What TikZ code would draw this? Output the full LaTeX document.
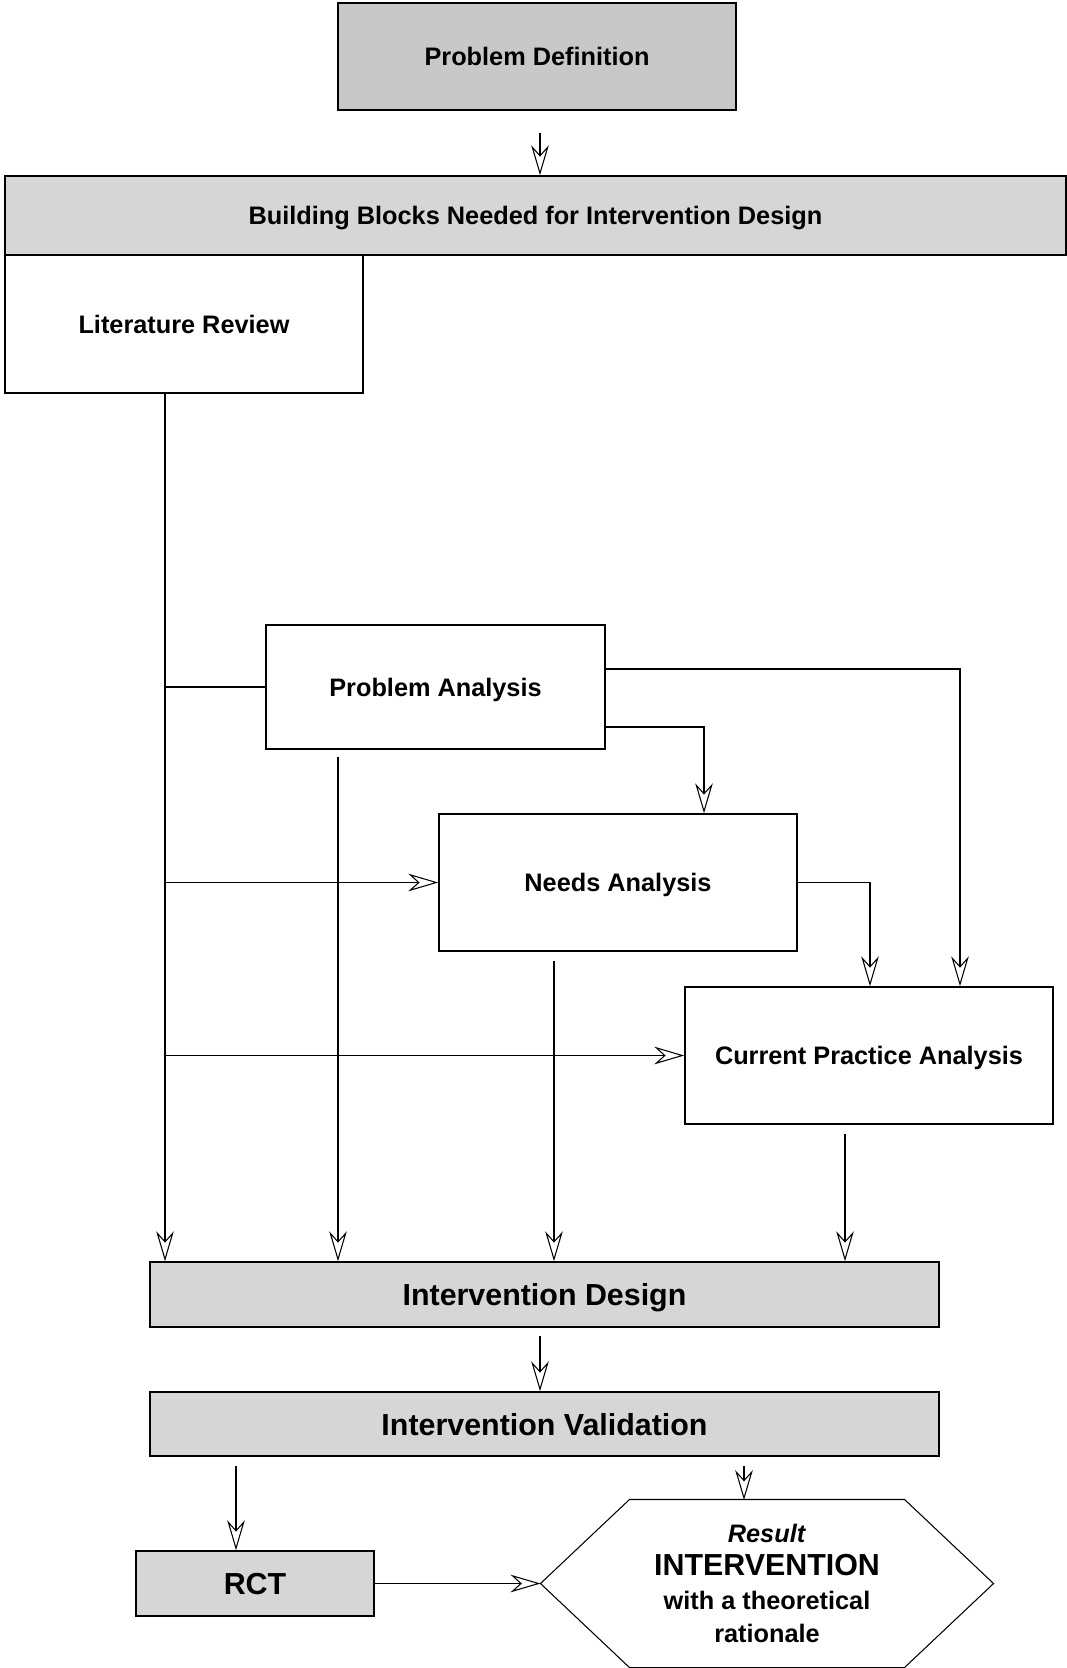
\documentclass[tikz,border=0pt]{standalone}
\usepackage{fontspec}
\setmainfont{Liberation Sans}
\usetikzlibrary{arrows.meta}

\definecolor{dotgray}{HTML}{D6D6D6}
\definecolor{darkdot}{HTML}{C8C8C8}

\begin{document}
\begin{tikzpicture}[
    box/.style={draw=black, line width=0.9pt, inner sep=0pt, align=center,
        text depth=0pt, font=\fontsize{14.4}{17}\selectfont\bfseries},
    shaded/.style={box, fill=dotgray},
    bigtext/.style={font=\fontsize{17.3}{20}\selectfont\bfseries},
    arr/.style={-{Stealth[open, length=17pt, width=10pt, inset=5.5pt]}},
    line width=0.6pt
]
    \useasboundingbox (0,0) rectangle (21.34,-33.36);

    % top of the chart
    \node[shaded, fill=darkdot, minimum width=7.96cm, minimum height=2.14cm]
        (probdef) at (10.74,-1.13) {Problem Definition};
    \node[shaded, minimum width=21.22cm, minimum height=1.58cm]
        (blocks) at (10.71,-4.31) {Building Blocks Needed for Intervention Design};
    \node[box, minimum width=7.16cm, minimum height=2.76cm]
        (litrev) at (3.68,-6.48) {Literature Review};

    \draw[arr] ([xshift=0.06cm, yshift=-0.44cm]probdef.south) -- ([xshift=0.06cm]probdef.south |- blocks.north);

    % the building blocks
    \node[box, minimum width=6.78cm, minimum height=2.48cm]
        (probana) at (8.71,-13.74) {Problem Analysis};
    \node[box, minimum width=7.16cm, minimum height=2.74cm]
        (needs) at (12.36,-17.65) {Needs Analysis};
    \node[box, minimum width=7.36cm, minimum height=2.74cm]
        (current) at (17.38,-21.11) {Current Practice Analysis};

    \node[shaded, bigtext, minimum width=15.78cm, minimum height=1.30cm]
        (design) at (10.89,-25.89) {Intervention Design};
    \node[shaded, bigtext, minimum width=15.78cm, minimum height=1.28cm]
        (valid) at (10.89,-28.48) {Intervention Validation};
    \node[shaded, bigtext, minimum width=4.76cm, minimum height=1.30cm]
        (rct) at (5.10,-31.67) {RCT};

    % result hexagon
    \node[minimum width=9.04cm, minimum height=3.34cm, inner sep=0pt, align=center,
        font=\fontsize{14.4}{19}\selectfont\bfseries]
        (result) at (15.34,-31.67)
        {\textit{Result}\\{\fontsize{17.3}{19}\selectfont INTERVENTION}\\with a theoretical\\rationale};
    \draw (result.west) -- ([xshift=1.78cm]result.north west)
        -- ([xshift=-1.78cm]result.north east) -- (result.east)
        -- ([xshift=-1.78cm]result.south east)
        -- ([xshift=1.78cm]result.south west) -- cycle;

    % literature review trunk
    \coordinate (trunk) at ([xshift=-0.38cm]litrev.south);
    \draw[arr] (trunk) -- (trunk |- design.north);
    \draw (trunk |- probana.west) -- (probana.west);
    \draw[arr] (trunk |- needs.west) -- (needs.west);
    \draw[arr] (trunk |- current.west) -- (current.west);

    % problem analysis outputs
    \draw[arr] ([yshift=0.36cm]probana.east) -| (19.20,0 |- current.north);
    \draw[arr] ([yshift=-0.80cm]probana.east) -| (14.08,0 |- needs.north);
    \draw[arr] ([xshift=-1.95cm, yshift=-0.14cm]probana.south) -- ([xshift=-1.95cm]probana.south |- design.north);

    % needs analysis outputs
    \draw[arr] (needs.east) -| (17.40,0 |- current.north);
    \draw[arr] ([xshift=-1.28cm, yshift=-0.18cm]needs.south) -- ([xshift=-1.28cm]needs.south |- design.north);

    % current practice output
    \draw[arr] ([xshift=-0.48cm, yshift=-0.18cm]current.south) -- ([xshift=-0.48cm]current.south |- design.north);

    % design and validation
    \draw[arr] ([xshift=-0.09cm, yshift=-0.16cm]design.south) -- ([xshift=-0.09cm]design.south |- valid.north);
    \draw[arr] (4.72,0 |- valid.south) ++(0,-0.18) -- (4.72,0 |- rct.north);
    \draw[arr] (14.88,0 |- valid.south) ++(0,-0.18) -- (14.88,-30.00);
    \draw[arr] (rct.east) -- (result.west);

\end{tikzpicture}
\end{document}
